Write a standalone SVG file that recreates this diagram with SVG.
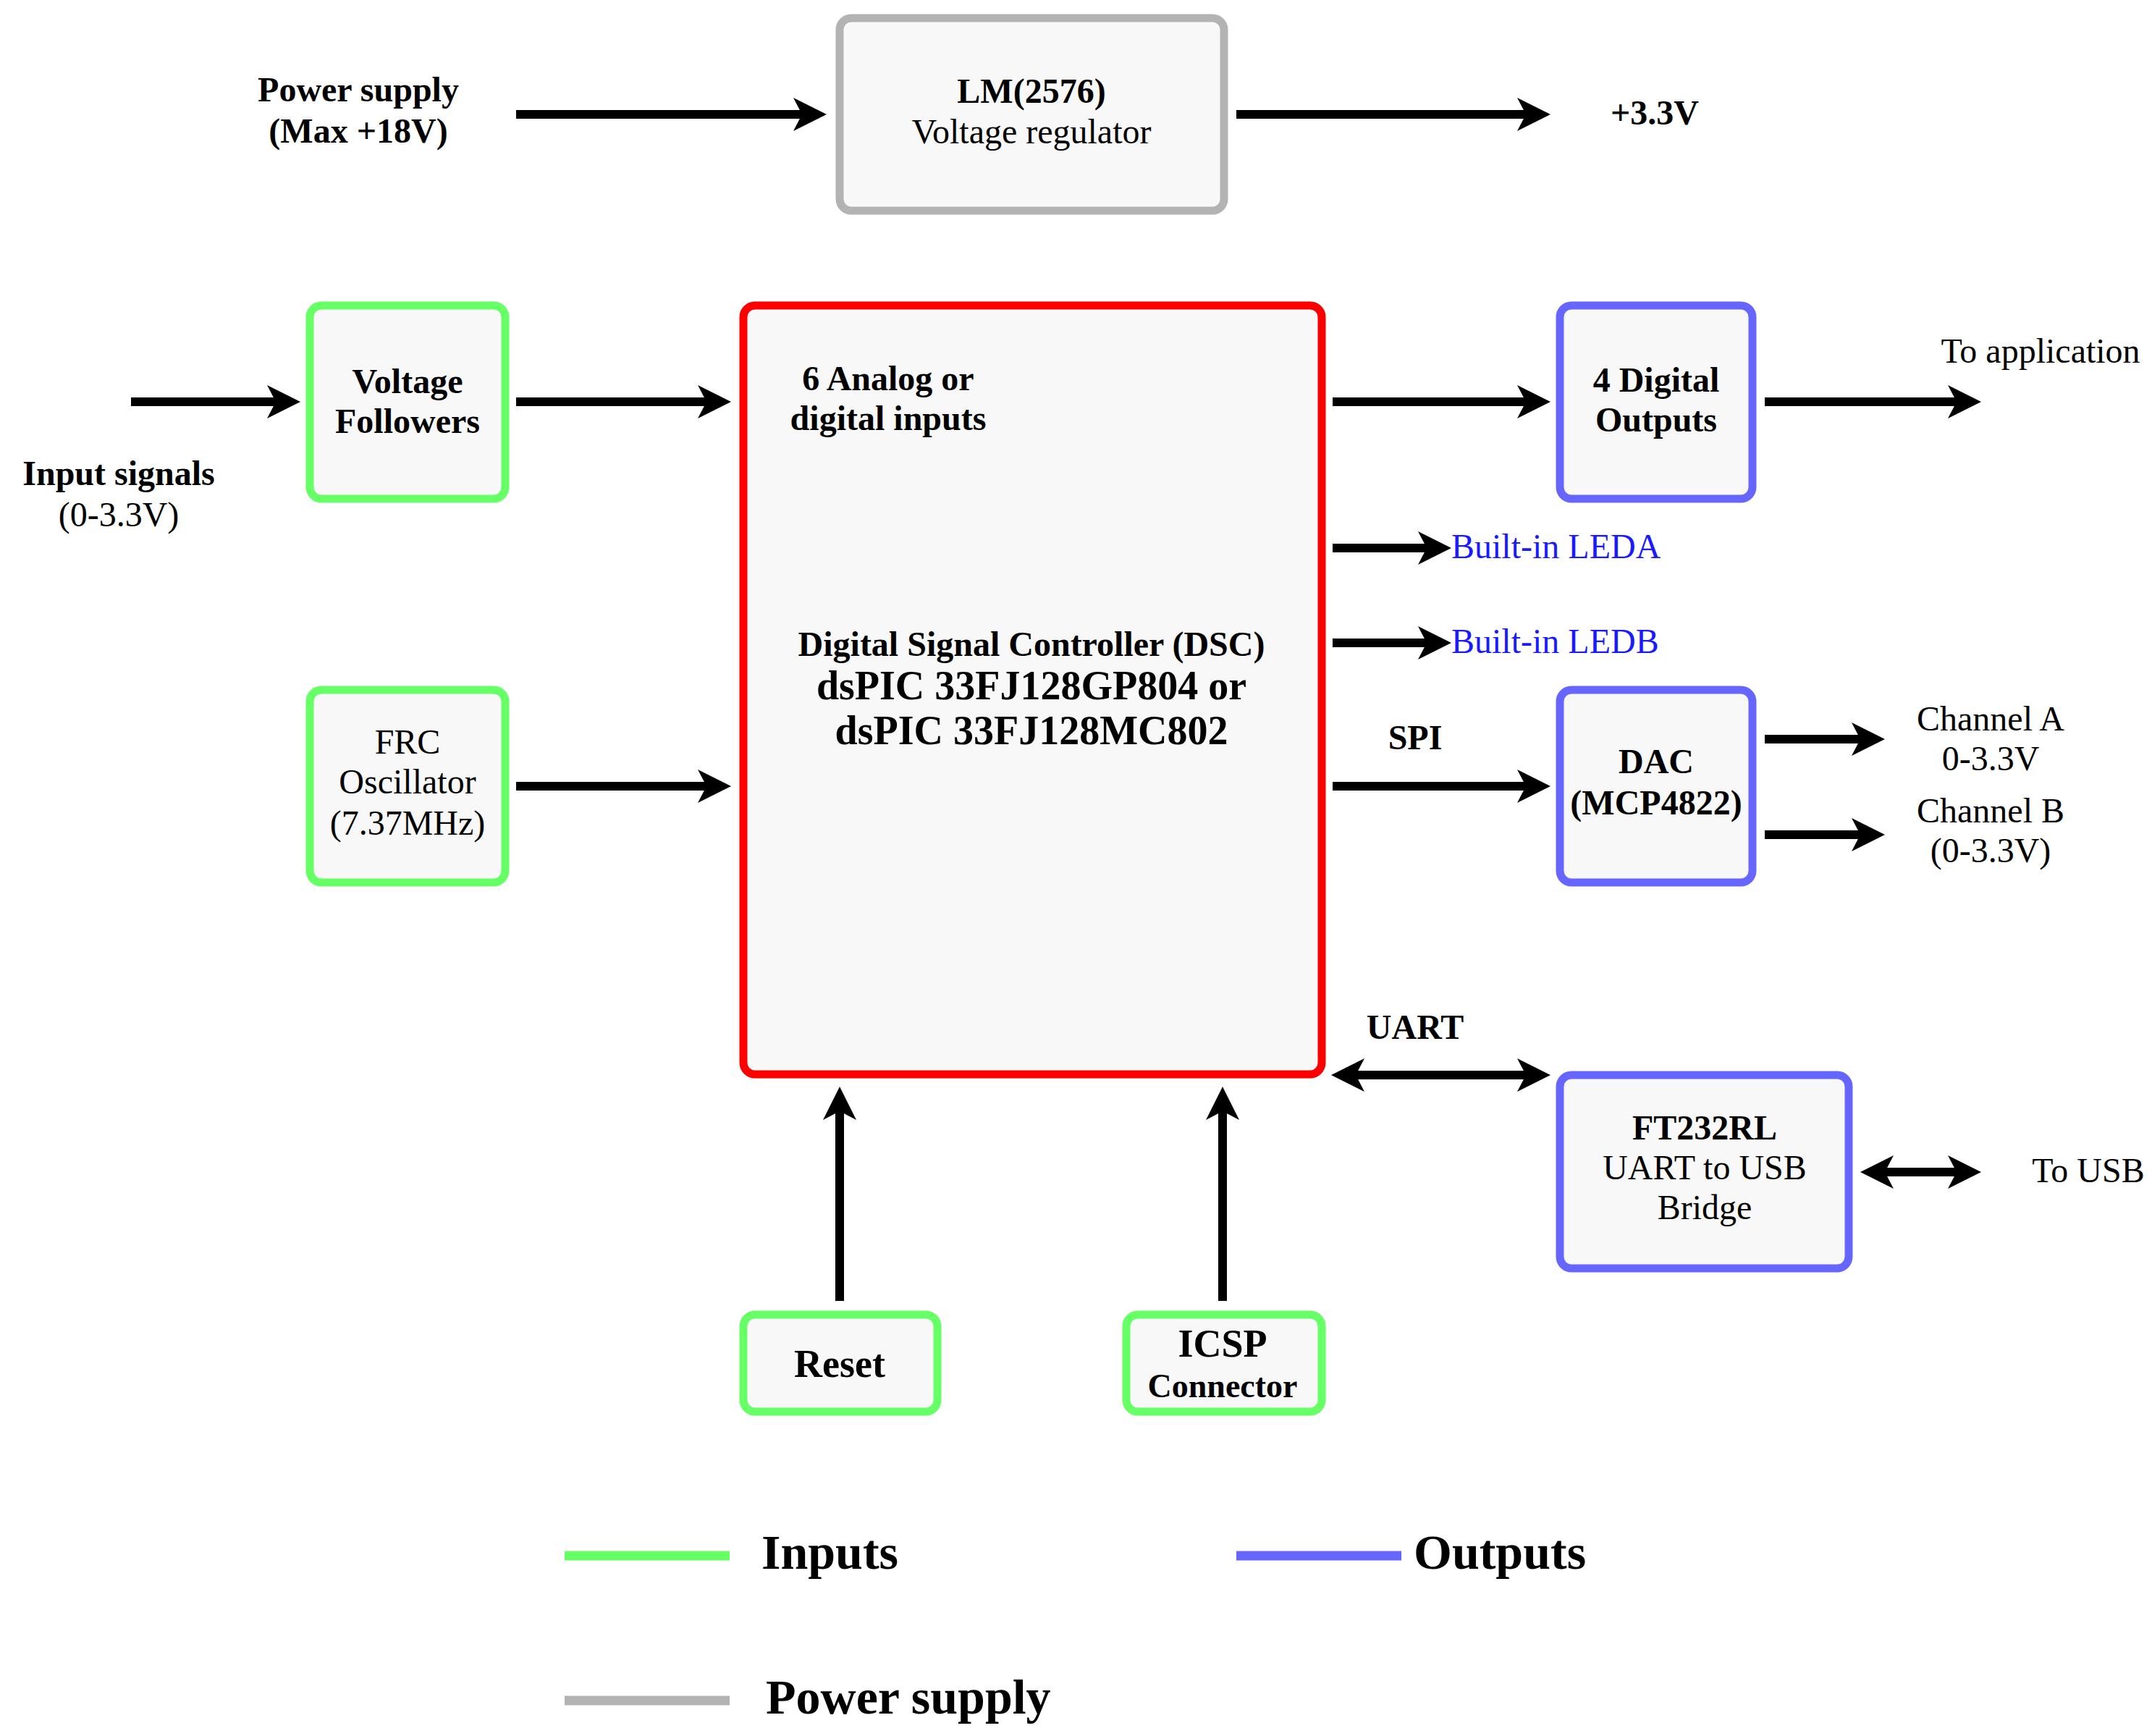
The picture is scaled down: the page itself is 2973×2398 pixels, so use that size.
<svg xmlns="http://www.w3.org/2000/svg" width="2973" height="2398" viewBox="0 0 2973 2398">
<style>
text{font-family:"Liberation Serif","DejaVu Serif",serif;font-size:48px;text-anchor:middle;fill:#000}
.b{font-weight:bold}
.box{fill:#f8f8f8;stroke-width:11}
.g{stroke:#66ff66}.bl{stroke:#6666ff}.gr{stroke:#b3b3b3}.r{stroke:#ff0000}
.c{stroke:#000;stroke-width:12;fill:none;marker-end:url(#ah)}
.d{marker-start:url(#ah)}
.led{fill:#1a1aff;text-anchor:start}
</style>
<defs>
<marker id="ah" markerUnits="userSpaceOnUse" markerWidth="50" markerHeight="50" refX="22" refY="23" orient="auto-start-reverse">
<path d="M0,0 L46,23 L0,46 L12,23 z" fill="#000"/>
</marker>
</defs>
<g id="lm"><rect class="box gr" x="1160" y="25" width="531" height="266" rx="16"/>
<text class="b" x="1425" y="142">LM(2576)</text><text x="1425" y="198">Voltage regulator</text></g>
<g id="vf"><rect class="box g" x="428" y="422" width="270" height="267" rx="16"/>
<text class="b" x="563" y="543">Voltage</text><text class="b" x="563" y="598">Followers</text></g>
<g id="frc"><rect class="box g" x="428" y="953" width="270" height="266" rx="16"/>
<text x="563" y="1041">FRC</text><text x="563" y="1096">Oscillator</text><text x="563" y="1153">(7.37MHz)</text></g>
<g id="dsc"><rect class="box r" x="1027" y="422" width="799" height="1062" rx="16"/>
<text class="b" x="1227" y="539">6 Analog or</text><text class="b" x="1227" y="594">digital inputs</text>
<text class="b" x="1425" y="906">Digital Signal Controller (DSC)</text>
<text class="b" x="1425" y="966" style="font-size:56px">dsPIC 33FJ128GP804 or</text>
<text class="b" x="1425" y="1028" style="font-size:56px">dsPIC 33FJ128MC802</text></g>
<g id="reset"><rect class="box g" x="1027" y="1816" width="268" height="134" rx="16"/>
<text class="b" x="1160" y="1902" style="font-size:54px">Reset</text></g>
<g id="icsp"><rect class="box g" x="1556" y="1816" width="270" height="134" rx="16"/>
<text class="b" x="1689" y="1874" style="font-size:54px">ICSP</text><text class="b" x="1689" y="1930" style="font-size:46px">Connector</text></g>
<g id="dout"><rect class="box bl" x="2155" y="422" width="266" height="267" rx="16"/>
<text class="b" x="2288" y="541">4 Digital</text><text class="b" x="2288" y="596">Outputs</text></g>
<g id="dac"><rect class="box bl" x="2155" y="953" width="266" height="266" rx="16"/>
<text class="b" x="2288" y="1068">DAC</text><text class="b" x="2288" y="1125">(MCP4822)</text></g>
<g id="ft"><rect class="box bl" x="2155" y="1485" width="399" height="267" rx="16"/>
<text class="b" x="2355" y="1574">FT232RL</text><text x="2355" y="1629">UART to USB</text><text x="2355" y="1684">Bridge</text></g>
<g id="labels">
<text class="b" x="495" y="140">Power supply</text><text class="b" x="495" y="197">(Max +18V)</text>
<text class="b" x="2286" y="172">+3.3V</text>
<text class="b" x="164" y="670">Input signals</text><text x="164" y="727">(0-3.3V)</text>
<text x="2819" y="501">To application</text>
<text class="led" x="2005" y="771">Built-in LEDA</text><text class="led" x="2005" y="902">Built-in LEDB</text>
<text class="b" x="1955" y="1035">SPI</text>
<text x="2750" y="1009">Channel A</text><text x="2750" y="1064">0-3.3V</text>
<text x="2750" y="1136">Channel B</text><text x="2750" y="1191">(0-3.3V)</text>
<text class="b" x="1955" y="1435">UART</text>
<text x="2885" y="1633">To USB</text>
</g>
<g id="connectors">
<line class="c" x1="713" y1="158" x2="1118" y2="158"/>
<line class="c" x1="1708" y1="158" x2="2118" y2="158"/>
<line class="c" x1="181" y1="555" x2="391" y2="555"/>
<line class="c" x1="713" y1="555" x2="986" y2="555"/>
<line class="c" x1="713" y1="1086" x2="986" y2="1086"/>
<line class="c" x1="1841" y1="555" x2="2118" y2="555"/>
<line class="c" x1="2438" y1="555" x2="2713" y2="555"/>
<line class="c" x1="1841" y1="757" x2="1981" y2="757"/>
<line class="c" x1="1841" y1="888" x2="1981" y2="888"/>
<line class="c" x1="1841" y1="1086" x2="2118" y2="1086"/>
<line class="c" x1="2438" y1="1021" x2="2580" y2="1021"/>
<line class="c" x1="2438" y1="1153" x2="2580" y2="1153"/>
<line class="c d" x1="1863" y1="1485" x2="2118" y2="1485"/>
<line class="c d" x1="2594" y1="1619" x2="2713" y2="1619"/>
<line class="c" x1="1160" y1="1797" x2="1160" y2="1525"/>
<line class="c" x1="1689" y1="1797" x2="1689" y2="1525"/>
</g>
<g id="legend">
<line x1="780" y1="2149" x2="1008" y2="2149" stroke="#66ff66" stroke-width="13"/>
<text class="b" x="1052" y="2167" style="font-size:68px;text-anchor:start">Inputs</text>
<line x1="1708" y1="2149" x2="1936" y2="2149" stroke="#6666ff" stroke-width="13"/>
<text class="b" x="1953" y="2167" style="font-size:68px;text-anchor:start">Outputs</text>
<line x1="780" y1="2349" x2="1008" y2="2349" stroke="#b3b3b3" stroke-width="13"/>
<text class="b" x="1058" y="2367" style="font-size:68px;text-anchor:start">Power supply</text>
</g>
</svg>
